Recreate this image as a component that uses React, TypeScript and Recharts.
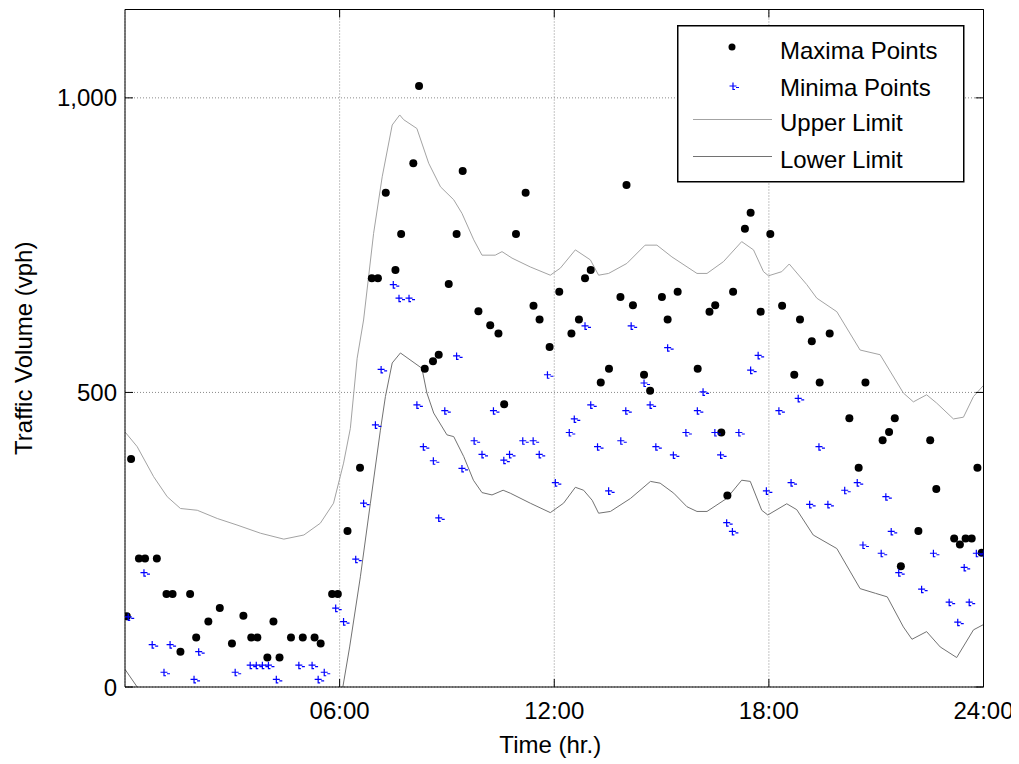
import { ComposedChart, Scatter, Line, XAxis, YAxis, CartesianGrid, Legend } from "recharts"

// hours after midnight / traffic volume (vph)
const maxTimes = [
  0.05, 0.17, 0.39, 0.56, 0.89, 1.16, 1.33, 1.55, 1.82, 1.99, 2.33, 2.65, 2.99, 3.31, 3.53, 3.7, 3.98, 4.15, 4.32,
  4.64, 4.97, 5.3, 5.47, 5.79, 5.95, 6.22, 6.57, 6.9, 7.07, 7.29, 7.56, 7.72, 8.06, 8.22, 8.38, 8.61, 8.77, 9.05,
  9.27, 9.44, 9.88, 10.21, 10.44, 10.6, 10.93, 11.2, 11.42, 11.59, 11.87, 12.14, 12.48, 12.69, 12.86, 13.02, 13.3,
  13.53, 13.85, 14.02, 14.2, 14.51, 14.68, 15.01, 15.17, 15.45, 16.01, 16.34, 16.5, 16.67, 16.84, 17.0, 17.33,
  17.49, 17.77, 18.04, 18.37, 18.71, 18.87, 19.2, 19.42, 19.7, 20.25, 20.51, 20.7, 21.18, 21.36, 21.52, 21.69,
  22.18, 22.51, 22.68, 23.18, 23.34, 23.5, 23.67, 23.83, 23.95,
]
const maxValues = [
  120, 387, 218, 218, 218, 158, 158, 60, 158, 84, 111, 134, 74, 121, 84, 84, 50, 111, 50,
  84, 84, 84, 74, 158, 158, 265, 372, 694, 694, 839, 708, 769, 889, 1020, 540, 553, 564, 684,
  769, 876, 638, 614, 600, 480, 769, 839, 647, 624, 577, 671, 600, 624, 694, 708, 517,
  540, 662, 852, 648, 530, 503, 662, 624, 671, 540, 637, 648, 432, 325, 671, 778,
  805, 637, 769, 647, 530, 624, 587, 517, 600, 456, 372, 517, 419, 433, 456, 205,
  265, 419, 336, 252, 242, 252, 252, 372, 228,
]

const minTimes = [
  0.09, 0.53, 0.76, 1.09, 1.26, 1.93, 2.06, 3.08, 3.5, 3.67, 3.84, 4.01, 4.23, 4.86, 5.23, 5.4, 5.57, 5.89, 6.11,
  6.45, 6.67, 7.0, 7.16, 7.5, 7.66, 7.94, 8.16, 8.34, 8.62, 8.77, 8.94, 9.27, 9.42, 9.76, 9.98, 10.3, 10.59, 10.75,
  11.12, 11.41, 11.58, 11.81, 12.03, 12.42, 12.56, 12.86, 13.02, 13.21, 13.52, 13.86, 14.0, 14.15, 14.51, 14.68,
  14.84, 15.17, 15.33, 15.68, 16.0, 16.16, 16.49, 16.65, 16.82, 16.98, 17.16, 17.49, 17.7, 17.93, 18.28, 18.62,
  18.82, 19.14, 19.4, 19.65, 20.12, 20.47, 20.63, 21.14, 21.27, 21.42, 21.63, 22.27, 22.6, 23.04, 23.28, 23.46,
  23.6, 23.8, 24.0,
]
const minValues = [
  119, 194, 72, 25, 72, 13, 60, 25, 37, 37, 37, 37, 13, 37, 37, 13, 25, 134, 111,
  217, 312, 445, 539, 683, 660, 660, 479, 408, 384, 287, 469, 562, 371, 418, 395, 469, 385, 395,
  418, 418, 395, 530, 347, 432, 455, 613, 479, 408, 333, 418, 469, 613, 516, 479,
  408, 576, 394, 432, 469, 501, 432, 394, 279, 264, 432, 538, 563, 333, 469, 347,
  490, 310, 408, 310, 334, 347, 241, 227, 323, 264, 194, 166, 227, 144, 110, 203,
  144, 227, 226,
]

const upperTimes = [
  0, 0.34, 0.8, 1.18, 1.55, 2.02, 2.58, 3.13, 3.79, 4.44, 5.0, 5.46, 5.83, 6.11, 6.3, 6.49, 6.67, 6.95, 7.19,
  7.47, 7.68, 7.79, 8.16, 8.49, 8.82, 9.19, 9.42, 9.75, 9.98, 10.35, 10.54, 10.82, 11.33, 11.89, 12.17, 12.59,
  13.01, 13.24, 13.52, 14.03, 14.54, 14.87, 15.29, 15.99, 16.27, 16.73, 17.24, 17.57, 17.85, 17.99, 18.36, 18.57,
  19.06, 19.34, 19.9, 20.55, 21.11, 21.76, 22.04, 22.41, 22.69, 23.16, 23.44, 23.72, 24,
]
const upperValues = [
  433, 408, 357, 323, 303, 300, 286, 275, 261, 251, 258, 278, 312, 380, 439, 558, 623, 770, 866,
  954, 971, 963, 948, 889, 849, 827, 804, 759, 733, 733, 739, 728, 713, 699, 711, 742,
  725, 699, 702, 719, 750, 750, 730, 702, 702, 722, 756, 742, 705, 698, 705, 718,
  683, 660, 637, 572, 564, 499, 484, 496, 482, 455, 458, 493, 512,
]

const lowerTimes = [
  0, 0.34, 0.35, 6.09, 6.28, 6.58, 6.86, 7.14, 7.28, 7.47, 7.7, 8.3, 8.44, 8.63, 9.0, 9.19, 9.47, 9.74, 9.98,
  10.26, 10.57, 10.77, 11.33, 11.89, 12.26, 12.59, 12.82, 13.06, 13.24, 13.57, 14.13, 14.69, 14.96, 15.34, 15.71,
  15.99, 16.27, 16.82, 17.24, 17.48, 17.8, 17.97, 18.5, 18.78, 19.24, 19.9, 20.55, 20.98, 21.31, 21.76, 22.0,
  22.41, 22.79, 23.25, 23.72, 24,
]
const lowerValues = [
  30, 0, null, 0, 68, 187, 312, 436, 493, 550, 567, 541, 499, 465, 428, 425, 391, 351, 330,
  326, 334, 329, 312, 296, 312, 339, 334, 317, 295, 298, 320, 349, 346, 329, 306,
  298, 298, 320, 351, 349, 300, 292, 311, 301, 258, 235, 167, 159, 153, 102, 81,
  94, 68, 50, 97, 106,
]

const hourTicks = [6, 12, 18, 24]
const volumeTicks = [0, 500, 1000]
const xMax = 24
const yMax = 1150

const zip = (ts: number[], vs: (number | null)[]) => ts.map((t, i) => ({ t, v: vs[i] }))

const maxData = zip(maxTimes, maxValues)
const minData = zip(minTimes, minValues)
const upperData = zip(upperTimes, upperValues)
const lowerData = zip(lowerTimes, lowerValues)

const FONT = '"Liberation Sans", Arial, sans-serif'
const UPPER = "#a3a3a3"
const LOWER = "#727272"
const BLUE = "#0000ff"

const crossPath = (cx: number, cy: number) =>
  `M${cx - 3.5},${cy}H${cx + 3.5}M${cx},${cy - 3.5}V${cy + 3.5}H${cx + 2}M${cx + 3},${cy + 1.5}H${cx + 6}`

const MaxDot = (p: any) => <circle cx={p.cx} cy={p.cy} r={4} fill="#000" />
const MinCross = (p: any) => <path d={crossPath(p.cx, p.cy)} stroke={BLUE} strokeWidth={1.2} fill="none" />
// keeps the top/right frame axes bound to a series
const NoMark = () => <g />

const hourLabel = (h: number) => `${String(h).padStart(2, "0")}:00`

function LegendBox() {
  return (
    <svg width={288} height={158} style={{ display: "block" }}>
      <rect x={0.75} y={0.75} width={286} height={156} fill="#fff" stroke="#000" strokeWidth={1.5} />
      <circle cx={55} cy={22} r={3.5} fill="#000" />
      <path d={crossPath(56, 61)} stroke={BLUE} strokeWidth={1.2} fill="none" />
      <line x1={16} x2={95} y1={94.5} y2={94.5} stroke={UPPER} />
      <line x1={16} x2={95} y1={131.5} y2={131.5} stroke={LOWER} />
      <g fontFamily={FONT} fontSize={24} fill="#000">
        <text x={103} y={34}>Maxima Points</text>
        <text x={103} y={70.7}>Minima Points</text>
        <text x={103} y={105.7}>Upper Limit</text>
        <text x={103} y={143.3}>Lower Limit</text>
      </g>
    </svg>
  )
}

export default function App() {
  const tickStyle = { fill: "#000", fontSize: 24, fontFamily: FONT }
  return (
    <ComposedChart
      width={1011}
      height={756}
      margin={{ top: 0.5, right: 34.5, bottom: 8, left: 0 }}
      style={{ fontFamily: FONT }}
    >
      <CartesianGrid stroke="#8a8a8a" strokeDasharray="1 2" />
      <XAxis
        dataKey="t"
        type="number"
        domain={[0, xMax]}
        ticks={hourTicks}
        tickFormatter={hourLabel}
        height={69}
        tickSize={-8}
        tickMargin={23}
        tick={tickStyle}
        axisLine={{ stroke: "#000" }}
        tickLine={{ stroke: "#000" }}
        allowDataOverflow
        label={{ value: "Time (hr.)", position: "insideBottom", offset: 3, dx: -4, fill: "#000", fontSize: 24 }}
      />
      <XAxis
        xAxisId="top"
        orientation="top"
        dataKey="t"
        type="number"
        domain={[0, xMax]}
        ticks={hourTicks}
        tickFormatter={() => ""}
        height={1}
        tickSize={-8}
        axisLine={{ stroke: "#000" }}
        tickLine={{ stroke: "#000" }}
        allowDataOverflow
      />
      <YAxis
        dataKey="v"
        type="number"
        domain={[0, yMax]}
        ticks={volumeTicks}
        tickFormatter={(v: number) => v.toLocaleString("en-US")}
        width={117}
        tickSize={-8}
        tickMargin={16}
        tick={tickStyle}
        axisLine={{ stroke: "#000" }}
        tickLine={{ stroke: "#000" }}
        allowDataOverflow
        label={{
          value: "Traffic Volume (vph)",
          angle: -90,
          position: "insideLeft",
          offset: 15,
          style: { textAnchor: "middle" },
          fill: "#000",
          fontSize: 24,
        }}
      />
      <YAxis
        yAxisId="right"
        orientation="right"
        dataKey="v"
        type="number"
        domain={[0, yMax]}
        ticks={volumeTicks}
        tickFormatter={() => ""}
        width={1}
        tickSize={-8}
        axisLine={{ stroke: "#000" }}
        tickLine={{ stroke: "#000" }}
        allowDataOverflow
      />
      <Legend
        layout="horizontal"
        verticalAlign="middle"
        align="center"
        wrapperStyle={{ left: 669, top: 17, width: 288, height: 158 }}
        content={() => <LegendBox />}
      />
      <Line
        data={upperData}
        dataKey="v"
        name="Upper Limit"
        stroke={UPPER}
        strokeWidth={1}
        dot={false}
        activeDot={false}
        isAnimationActive={false}
      />
      <Line
        data={lowerData}
        dataKey="v"
        name="Lower Limit"
        stroke={LOWER}
        strokeWidth={1}
        dot={false}
        activeDot={false}
        connectNulls={false}
        isAnimationActive={false}
      />
      <Scatter data={maxData} name="Maxima Points" shape={MaxDot} isAnimationActive={false} />
      <Scatter data={minData} name="Minima Points" shape={MinCross} isAnimationActive={false} />
      <Scatter
        data={maxData}
        xAxisId="top"
        yAxisId="right"
        shape={NoMark}
        legendType="none"
        isAnimationActive={false}
      />
    </ComposedChart>
  )
}
